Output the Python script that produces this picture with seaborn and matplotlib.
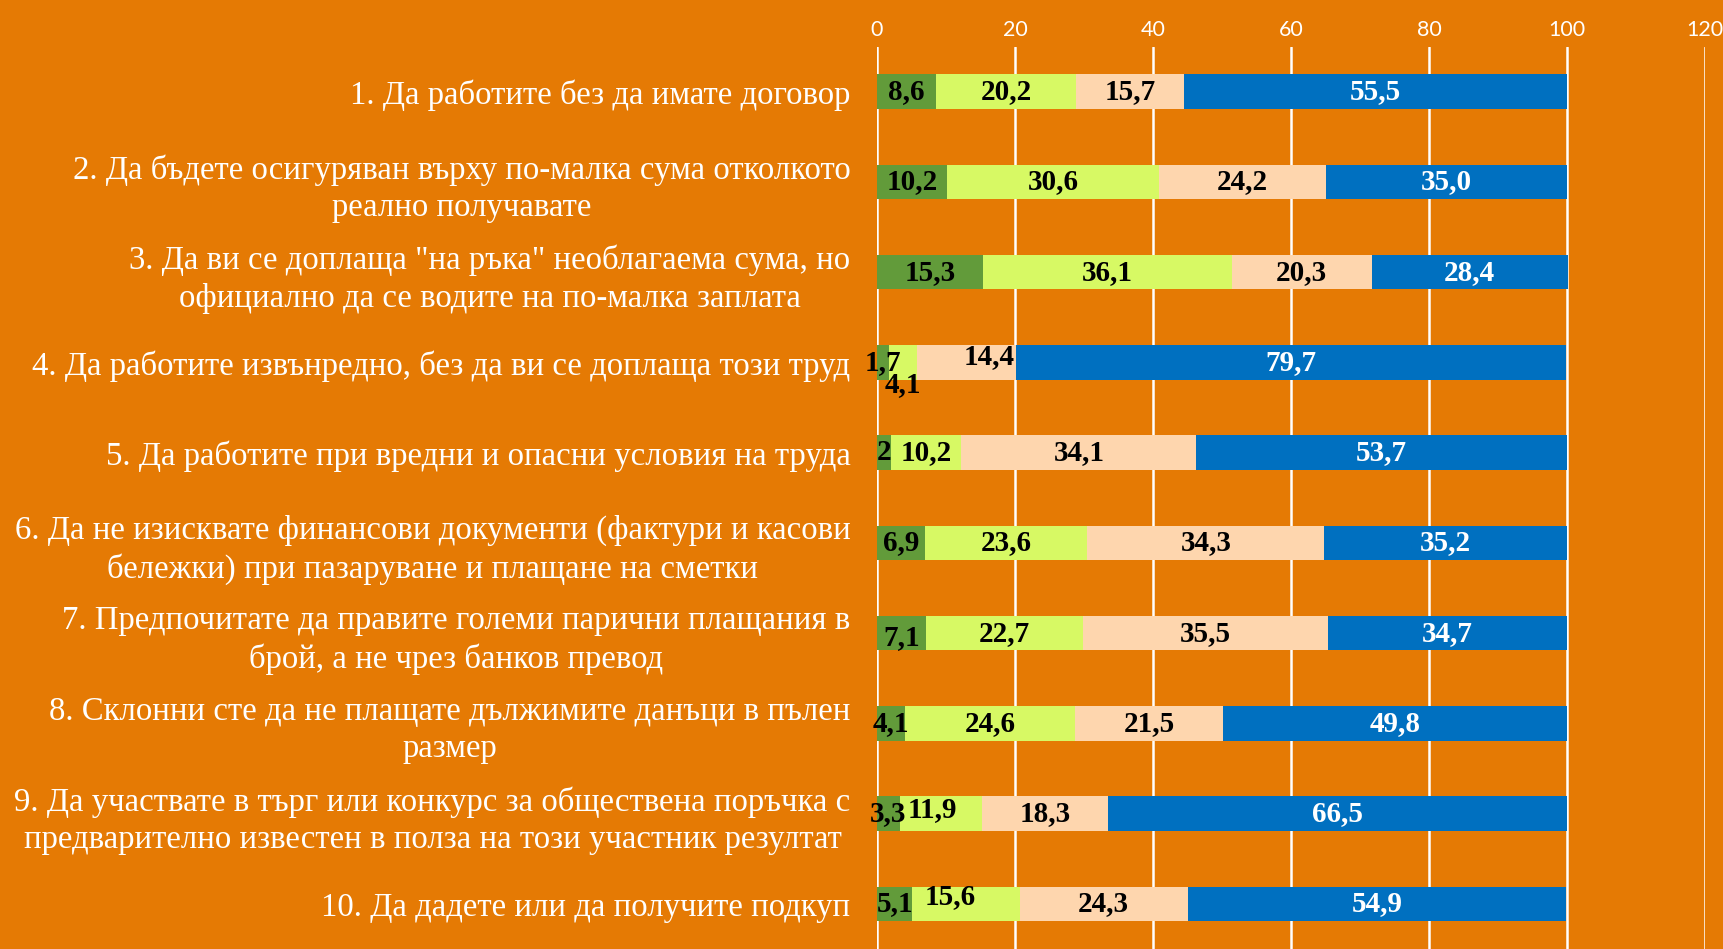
import matplotlib
matplotlib.use("Agg")
import matplotlib.pyplot as plt
import seaborn as sns
import pandas as pd
import numpy as np

categories = [
    "1. Да работите без да имате договор",
    "2. Да бъдете осигуряван върху по-малка сума отколкото\nреално получавате",
    "3. Да ви се доплаща \"на ръка\" необлагаема сума, но\nофициално да се водите на по-малка заплата",
    "4. Да работите извънредно, без да ви се доплаща този труд",
    "5. Да работите при вредни и опасни условия на труда",
    "6. Да не изисквате финансови документи (фактури и касови\nбележки) при пазаруване и плащане на сметки",
    "7. Предпочитате да правите големи парични плащания в\nброй, а не чрез банков превод",
    "8. Склонни сте да не плащате дължимите данъци в пълен\nразмер",
    "9. Да участвате в търг или конкурс за обществена поръчка с\nпредварително известен в полза на този участник резултат",
    "10. Да дадете или да получите подкуп",
]
s1 = [8.6, 10.2, 15.3, 1.7, 2.0, 6.9, 7.1, 4.1, 3.3, 5.1]
s2 = [20.2, 30.6, 36.1, 4.1, 10.2, 23.6, 22.7, 24.6, 11.9, 15.6]
s3 = [15.7, 24.2, 20.3, 14.4, 34.1, 34.3, 35.5, 21.5, 18.3, 24.3]
s4 = [55.5, 35.0, 28.4, 79.7, 53.7, 35.2, 34.7, 49.8, 66.5, 54.9]
label_texts = [
    ["8,6", "10,2", "15,3", "1,7", "2", "6,9", "7,1", "4,1", "3,3", "5,1"],
    ["20,2", "30,6", "36,1", "4,1", "10,2", "23,6", "22,7", "24,6", "11,9", "15,6"],
    ["15,7", "24,2", "20,3", "14,4", "34,1", "34,3", "35,5", "21,5", "18,3", "24,3"],
    ["55,5", "35,0", "28,4", "79,7", "53,7", "35,2", "34,7", "49,8", "66,5", "54,9"],
]
ticks = [0, 20, 40, 60, 80, 100, 120]

BG = "#E57A04"
colors = ["#629B3A", "#D7F964", "#FED6AE", "#0070C0"]
label_colors = ["black", "black", "black", "white"]

sns.set_theme(style="white")
plt.rcParams["font.family"] = ["Liberation Serif", "DejaVu Serif"]

series = [s1, s2, s3, s4]
cum = np.cumsum(np.array(series), axis=0)
df = pd.DataFrame({"cat": categories})
for i in range(4):
    df[f"c{i}"] = cum[i]

fig = plt.figure(figsize=(17.24, 9.49), dpi=100, facecolor=BG)
ax = fig.add_axes([0.5087, 0.0, 0.4803, 0.951])
ax.set_facecolor(BG)

for i in [3, 2, 1, 0]:
    sns.barplot(data=df, y="cat", x=f"c{i}", orient="h", color=colors[i],
                width=0.385, ax=ax, saturation=1, edgecolor="none", zorder=3)

ax.set_xlim(0, 120)
ax.set_ylim(9.5, -0.5)
ax.set_xticks(ticks)
ax.xaxis.tick_top()
ax.tick_params(axis="x", length=0, pad=5, labelsize=15.5, colors="white")
for t in ax.get_xticklabels():
    t.set_fontfamily(["Lato", "DejaVu Sans"])
ax.tick_params(axis="y", length=0, pad=19, labelsize=23.6, colors="white")
for t in ax.get_yticklabels():
    t.set_multialignment("center")
    t.set_linespacing(1.3)
ax.set_xlabel("")
ax.set_ylabel("")
ax.grid(axis="x", color="white", linewidth=1.8, zorder=0)
ax.grid(axis="y", visible=False)
for sp in ax.spines.values():
    sp.set_visible(False)

# manual label nudges (dx in data units, dy in category units)
nudges = {
    (3, 1): (0.0, 0.25, "center"),
    (3, 2): (0.0, -0.06, "right"),
    (8, 1): (-1.2, -0.04, "center"),
    (9, 1): (-2.3, -0.08, "center"),
    (6, 0): (0.0, 0.05, "center"),
}
starts = np.vstack([np.zeros(10), cum[:-1]])
for i in range(4):
    for r in range(10):
        x = starts[i][r] + series[i][r] / 2
        y = r
        ha = "center"
        if (r, i) in nudges:
            dx, dy, ha = nudges[(r, i)]
            if ha == "right":
                x = cum[i][r] - 0.2
            else:
                x += dx
            y += dy
        ax.text(x, y, label_texts[i][r], ha=ha, va="center", fontsize=21,
                fontweight="bold", color=label_colors[i], zorder=5)

fig.savefig("out.png", dpi=100, facecolor=BG)
